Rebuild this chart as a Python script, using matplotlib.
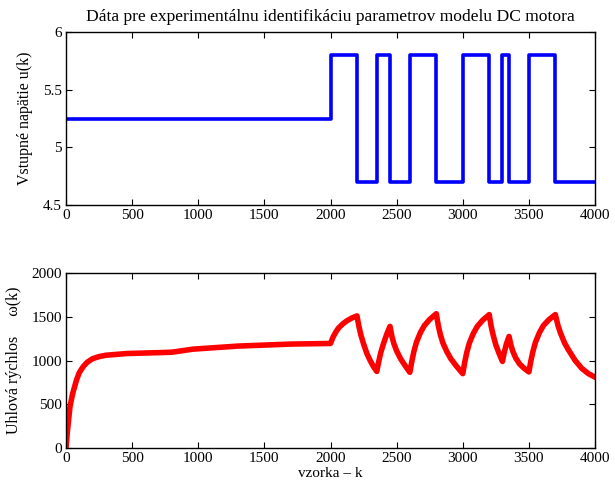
import matplotlib
matplotlib.use("Agg")
import matplotlib.pyplot as plt

plt.rcParams['font.family'] = ['Liberation Serif', 'DejaVu Serif']

# Input voltage u(k): step changes (sample index, level)
u_k = [0, 2000, 2000, 2200, 2200, 2350, 2350, 2450, 2450, 2600, 2600, 2800, 2800,
       3000, 3000, 3200, 3200, 3300, 3300, 3350, 3350, 3500, 3500, 3700, 3700, 4000]
u_val = [5.25, 5.25, 5.8, 5.8, 4.7, 4.7, 5.8, 5.8, 4.7, 4.7, 5.8, 5.8, 4.7,
         4.7, 5.8, 5.8, 4.7, 4.7, 5.8, 5.8, 4.7, 4.7, 5.8, 5.8, 4.7, 4.7]

# Angular speed omega(k)
w_k = [0, 10, 30, 50, 80, 100, 130, 160, 200, 250, 300, 460, 700, 800, 960, 1300, 1700, 2000,
       2020, 2040, 2060, 2090, 2120, 2160, 2200,
       2215, 2230, 2250, 2275, 2300, 2325, 2350,
       2365, 2380, 2400, 2425, 2450,
       2465, 2480, 2500, 2530, 2565, 2600,
       2615, 2630, 2650, 2680, 2710, 2750, 2800,
       2815, 2830, 2850, 2880, 2910, 2950, 3000,
       3015, 3030, 3050, 3080, 3110, 3150, 3200,
       3215, 3230, 3250, 3275, 3300,
       3315, 3330, 3350,
       3365, 3380, 3400, 3430, 3465, 3500,
       3515, 3530, 3550, 3580, 3610, 3650, 3700,
       3720, 3740, 3770, 3800, 3850, 3900, 3950, 4000]
w_val = [0, 180, 470, 620, 780, 860, 930, 980, 1020, 1045, 1060, 1080, 1090, 1095, 1130, 1165, 1188, 1195,
         1270, 1325, 1370, 1415, 1450, 1485, 1510,
         1390, 1290, 1190, 1080, 1000, 930, 875,
         990, 1090, 1190, 1300, 1390,
         1270, 1190, 1110, 1020, 940, 865,
         990, 1100, 1210, 1320, 1400, 1470, 1535,
         1400, 1300, 1200, 1100, 1020, 940, 850,
         980, 1090, 1200, 1310, 1390, 1460, 1525,
         1390, 1290, 1180, 1080, 990,
         1100, 1190, 1275,
         1170, 1100, 1030, 960, 910, 870,
         995, 1100, 1210, 1320, 1400, 1465, 1525,
         1400, 1310, 1200, 1120, 1000, 910, 850, 810]

x_ticks = [0, 500, 1000, 1500, 2000, 2500, 3000, 3500, 4000]
u_ticks = [4.5, 5, 5.5, 6]
u_ticklabels = ['4.5', '5', '5.5', '6']
w_ticks = [0, 500, 1000, 1500, 2000]

fig = plt.figure(figsize=(6.15, 4.87), dpi=100)
ax1 = fig.add_axes([0.1073, 0.579, 0.8602, 0.355])
ax2 = fig.add_axes([0.1073, 0.080, 0.8602, 0.3594])

ax1.plot(u_k, u_val, color='#0000ff', lw=2.6)
ax1.set_xlim(0, 4000)
ax1.set_ylim(4.5, 6)
ax1.set_xticks(x_ticks)
ax1.set_yticks(u_ticks)
ax1.set_yticklabels(u_ticklabels)
ax1.set_ylabel('Vstupné napätie u(k)', fontsize=11.5, labelpad=7)
ax1.set_title('Dáta pre experimentálnu identifikáciu parametrov modelu DC motora',
              fontsize=12.6, pad=8)

ax2.plot(w_k, w_val, color='#ff0000', lw=4)
ax2.set_xlim(0, 4000)
ax2.set_ylim(0, 2000)
ax2.set_xticks(x_ticks)
ax2.set_yticks(w_ticks)
ax2.set_ylabel('Uhlová rýchlos     ω(k)', fontsize=11.5, labelpad=7)
ax2.set_xlabel('vzorka – k', fontsize=11, labelpad=1)

for ax in (ax1, ax2):
    ax.tick_params(direction='in', top=True, right=True, labelsize=11, length=4, pad=3)
    for s in ax.spines.values():
        s.set_linewidth(1.0)

fig.savefig('out.png', dpi=100)
